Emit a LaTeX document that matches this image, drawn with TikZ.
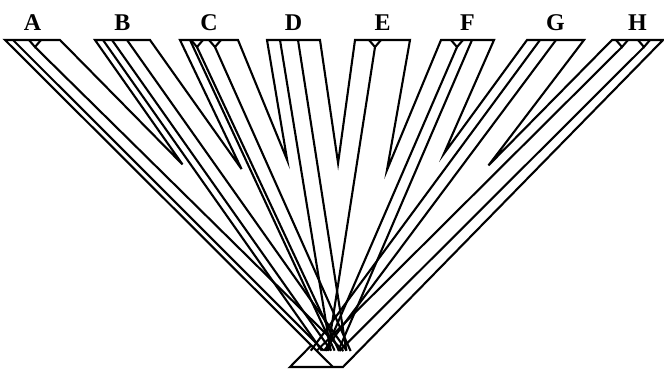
\documentclass[tikz,border=0pt]{standalone}
\usepackage{fontspec}
\setmainfont{Liberation Serif}
\usetikzlibrary{calc}

\tikzset{
  tube/.style={line width=2.1pt, line join=miter},
  lineage/.style={line width=2.1pt},
  splabel/.style={font=\bfseries\fontsize{24}{24}\selectfont, inner sep=0pt}
}

\begin{document}
\begin{tikzpicture}[x=1pt, y=-1pt]
  \useasboundingbox (0,0) rectangle (664,370);
  % root bar
  \coordinate (rl) at (290,367);
  \coordinate (rr) at (343,367);
  % species tubes: top edge l..r, bottom ends bl..br
  \foreach \sp/\l/\r/\bl/\br in {A/5/60/333/382, B/95/150/325/382,
      C/180/238/336/372, D/267/320/322/368, E/355/410/310/352,
      F/441/494/305/350, G/527/584/288/335, H/612/663/290/343} {
    \coordinate (\sp-l) at (\l,40);
    \coordinate (\sp-r) at (\r,40);
    \coordinate (\sp-bl) at (\bl,367);
    \coordinate (\sp-br) at (\br,367);
    \node[splabel] (lab-\sp) at ({(\l+\r)/2},23) {\sp};
  }
  % notches between neighbouring tubes
  \foreach \p/\q in {A/B, B/C, C/D, D/E, E/F, F/G, G/H}
    \coordinate (v\p\q) at (intersection of \p-r--\p-br and \q-l--\q-bl);
  \coordinate (x) at (intersection of A-l--A-bl and H-l--H-bl);
  \draw[tube] (x) -- (A-l) -- (A-r) -- (vAB) -- (B-l) -- (B-r) -- (vBC)
    -- (C-l) -- (C-r) -- (vCD) -- (D-l) -- (D-r) -- (vDE) -- (E-l)
    -- (E-r) -- (vEF) -- (F-l) -- (F-r) -- (vFG) -- (G-l) -- (G-r)
    -- (vGH) -- (H-l) -- (H-r) -- (rr) -- (rl) -- cycle;
  \draw[tube] (x) -- (A-bl);
  % gene lineages
  \foreach \sp/\l/\r/\x in {A/5/60/13, B/95/150/103, B/95/150/112,
      B/95/150/127, C/180/238/190, D/267/320/280, D/267/320/298,
      F/441/494/472, G/527/584/540, G/527/584/556} {
    \coordinate (bot) at ($(\sp-bl)!{(\x-\l)/(\r-\l)}!(\sp-br)$);
    \draw[lineage] (\x,40) -- ($(\x,40)!0.95!(bot)$);
  }
  % lineages that coalesce just below the top
  \foreach \sp/\l/\r/\x in {A/5/60/35, C/180/238/197, C/180/238/215,
      E/355/410/375, F/441/494/457, H/612/663/622, H/612/663/644} {
    \coordinate (bot) at ($(\sp-bl)!{(\x-\l)/(\r-\l)}!(\sp-br)$);
    \draw[lineage] (\x-6,40) -- (\x,47) -- (\x+6,40);
    \draw[lineage] (\x,47) -- ($(\x,47)!0.95!(bot)$);
  }
\end{tikzpicture}
\end{document}
